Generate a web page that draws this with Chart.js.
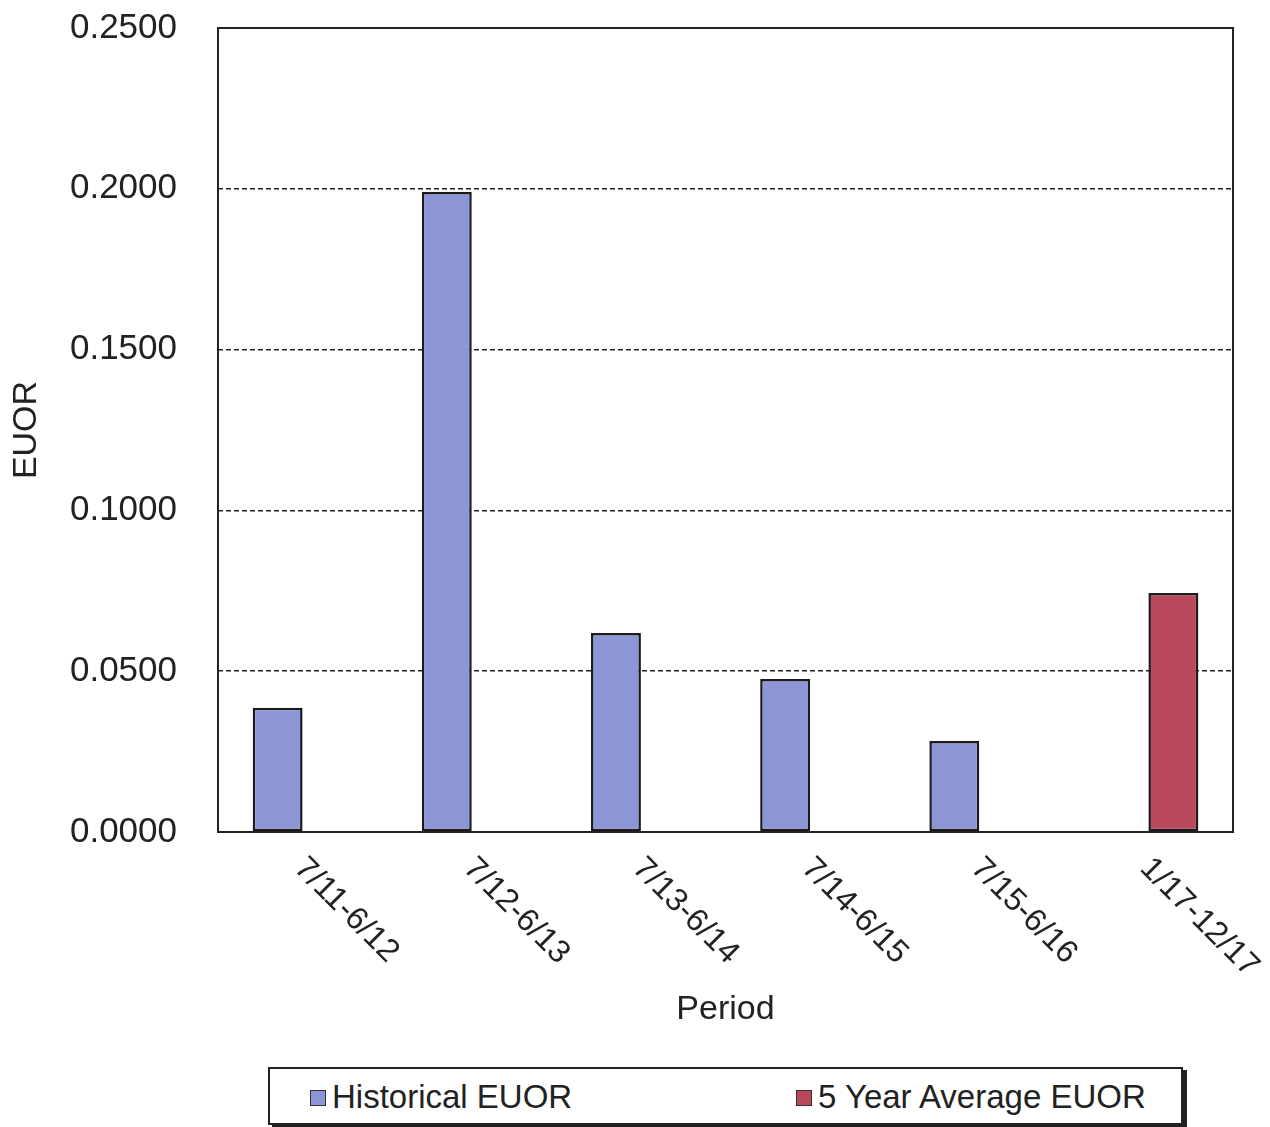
<!DOCTYPE html>
<html>
<head>
<meta charset="utf-8">
<script src="https://cdn.jsdelivr.net/npm/chart.js@4"></script>
<style>
  body { margin: 0; background: #fff; font-family: "Liberation Sans", Arial, sans-serif; }
  #wrap { position: relative; width: 1270px; height: 1127px; overflow: hidden; }
  #result-chart { position: absolute; left: 0; top: -34px; }
  #legend {
    position: absolute; left: 268px; top: 1067px; width: 911px; height: 54px;
    border: 2px solid #222; box-shadow: 4px 3px 0 #222; background: #fff;
  }
  .item { position: absolute; top: 9px; font-size: 33px; color: #222; white-space: nowrap; }
  .sw { display: inline-block; width: 14px; height: 14px; border: 1.5px solid #333; margin-right: 6px; vertical-align: 2px; }
</style>
</head>
<body>
<div id="wrap">
  <canvas id="result-chart" width="1270" height="1094"></canvas>
  <div id="legend">
    <div class="item" style="left:40px"><span class="sw" style="background:#8c96d6"></span>Historical EUOR</div>
    <div class="item" style="left:526px"><span class="sw" style="background:#b9485c"></span>5 Year Average EUOR</div>
  </div>
</div>
<script>
const periods = ["7/11-6/12", "7/12-6/13", "7/13-6/14", "7/14-6/15", "7/15-6/16", "1/17-12/17"];
const historical_euor = [0.0386, 0.1990, 0.0619, 0.0476, 0.0283, null];
const average_euor = [null, null, null, null, null, 0.0743];
const y_ticks = [0, 0.05, 0.10, 0.15, 0.20, 0.25];

const font_family = "'Liberation Sans', Arial, sans-serif";

// rotated x labels (text runs down-right from the tick) and the plot frame
const frame_and_labels = {
  id: "frame_and_labels",
  afterDatasetsDraw(chart) {
    const { ctx, chartArea, scales } = chart;
    ctx.save();
    ctx.strokeStyle = "#222";
    ctx.lineWidth = 2;
    ctx.strokeRect(chartArea.left, chartArea.top, chartArea.right - chartArea.left, chartArea.bottom - chartArea.top);
    ctx.fillStyle = "#222";
    ctx.font = `32px ${font_family}`;
    ctx.textAlign = "left";
    ctx.textBaseline = "top";
    periods.forEach((label, i) => {
      const x = scales.x.getPixelForTick(i);
      ctx.save();
      ctx.translate(x + 8, chartArea.bottom + 20);
      ctx.rotate(Math.PI / 4);
      ctx.fillText(label, 0, 0);
      ctx.restore();
    });
    ctx.restore();
  },
};

const get_chart_config = () => {
  return {
    type: "bar",
    data: {
      labels: periods,
      datasets: [
        {
          label: "Historical EUOR",
          data: historical_euor,
          backgroundColor: "#8c96d6",
          borderColor: "#1a1a1a",
          borderWidth: 2.5,
          borderSkipped: false,
        },
        {
          label: "5 Year Average EUOR",
          data: average_euor,
          backgroundColor: "#b9485c",
          borderColor: "#1a1a1a",
          borderWidth: 2.5,
          borderSkipped: false,
        },
      ],
    },
    options: {
      responsive: false,
      animation: false,
      datasets: { bar: { categoryPercentage: 0.59, barPercentage: 1.0 } },
      layout: { padding: { top: 28, right: 37, left: 0, bottom: 0 } },
      plugins: { legend: { display: false }, tooltip: { enabled: false } },
      scales: {
        x: {
          grid: { display: false },
          border: { display: false },
          ticks: { display: false },
          title: {
            display: true,
            text: "Period",
            color: "#222",
            font: { family: font_family, size: 34 },
            padding: { top: 0, bottom: 30 },
          },
          afterFit: (scale) => { scale.height = 228; },
        },
        y: {
          min: 0,
          max: 0.25,
          afterBuildTicks: (scale) => {
            scale.ticks = y_ticks.map((v) => ({ value: v }));
          },
          grid: {
            color: "#222",
            lineWidth: 1.5,
            drawTicks: false,
          },
          border: { display: false, dash: [5, 3] },
          ticks: {
            color: "#222",
            padding: 41,
            font: { family: font_family, size: 35 },
            callback: (v) => Number(v).toFixed(4),
          },
          title: {
            display: true,
            text: "EUOR",
            color: "#222",
            font: { family: font_family, size: 34 },
            padding: { top: 6, bottom: 0 },
          },
          afterFit: (scale) => { scale.width = 218; },
        },
      },
    },
    plugins: [frame_and_labels],
  };
};

const resultChart = new Chart(document.getElementById("result-chart"), get_chart_config());
</script>
</body>
</html>
